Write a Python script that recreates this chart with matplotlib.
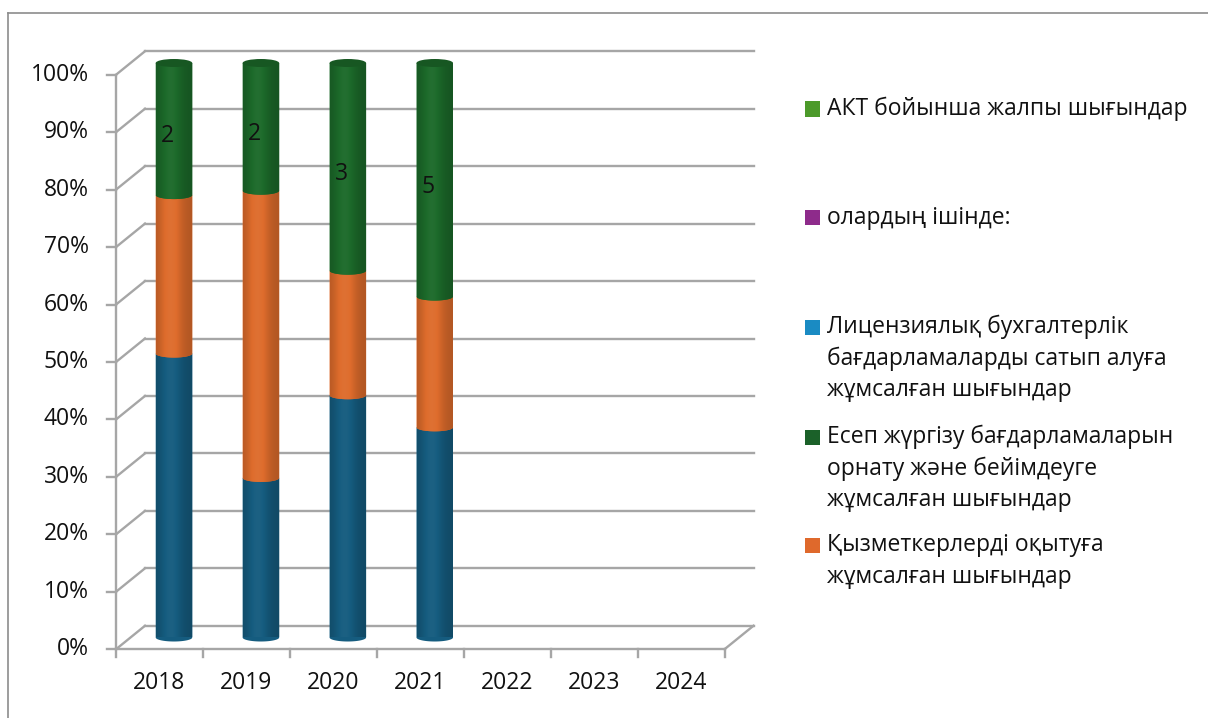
import matplotlib
matplotlib.use("Agg")
import matplotlib.pyplot as plt
import numpy as np
from matplotlib.patches import Polygon, Ellipse, Rectangle
from matplotlib.lines import Line2D
from matplotlib.colors import to_rgb

plt.rcParams["font.family"] = ["Open Sans", "DejaVu Sans"]

years = ["2018", "2019", "2020", "2021", "2022", "2023", "2024"]
# stacked series (bottom -> top), only the first four years have data
licenziya = [4.3, 2.5, 3.5, 4.5]
qyzmet = [2.4, 4.5, 1.8, 2.8]
esep = [2, 2, 3, 5]
esep_labels = ["2", "2", "3", "5"]
pct_ticks = [0, 10, 20, 30, 40, 50, 60, 70, 80, 90, 100]

legend_items = [
    ("АКТ бойынша жалпы шығындар", "#4C9A2A"),
    ("олардың ішінде:", "#8E2B8B"),
    ("Лицензиялық бухгалтерлік\nбағдарламаларды сатып алуға\nжұмсалған шығындар", "#1A8BC3"),
    ("Есеп жүргізу бағдарламаларын\nорнату және бейімдеуге\nжұмсалған шығындар", "#1B6129"),
    ("Қызметкерлерді оқытуға\nжұмсалған шығындар", "#DF692C"),
]
bar_colors = ["#155C7F", "#DE6C2C", "#1C6A2A"]

W, H = 1208, 718
fig = plt.figure(figsize=(W / 100, H / 100), dpi=100)
ax = fig.add_axes([130.5 / W, (H - 637.5) / H, 608.5 / W, 574.5 / H])
n = len(years)
ax.set_xlim(0, n)
ax.set_ylim(0, 100)
ax.set_axis_off()

# pseudo-3D offsets in data units (mid plane -> back wall)
px_x = 608.5 / n
px_y = 574.5 / 100
dxd = 14.5 / px_x
dyd = 11.75 / px_y
grid_c = "#A6A6A6"
lw = 1.7

# back wall, left wall, floor
for v in pct_ticks:
    ax.plot([dxd, n + dxd], [v + dyd, v + dyd], color=grid_c, lw=lw, clip_on=False, zorder=1)
    ax.plot([-dxd, dxd], [v - dyd, v + dyd], color=grid_c, lw=lw, clip_on=False, zorder=1)
ax.plot([n - dxd, n + dxd], [-dyd, dyd], color=grid_c, lw=lw, clip_on=False, zorder=1)
ax.plot([-dxd, n - dxd], [-dyd, -dyd], color=grid_c, lw=lw, clip_on=False, zorder=1)
ax.plot([-dxd, -dxd], [-dyd, 100 - dyd], color=grid_c, lw=lw, clip_on=False, zorder=1)
tick_x = 9 / px_x
for v in pct_ticks:
    ax.plot([-dxd - tick_x, -dxd], [v - dyd, v - dyd], color=grid_c, lw=lw, clip_on=False, zorder=1)
    ax.text(-dxd - 27 / px_x, v - dyd, f"{v}%", ha="right", va="center", fontsize=16.5, color="#111111")
for i in range(n + 1):
    ax.plot([i - dxd, i - dxd], [-dyd, -dyd - 8 / px_y], color=grid_c, lw=lw, clip_on=False, zorder=1)
for i, y in enumerate(years):
    ax.text(i + 0.5 - dxd, -dyd - 34 / px_y, y, ha="center", va="center", fontsize=16.5, color="#111111")

# cylinders
bw = 36.5 / px_x
eh = 8 / px_y
t = np.linspace(0, 1, 200)
prof = 0.8 + 0.26 * np.exp(-((t - 0.4) / 0.3) ** 2)


def shaded(color, k):
    base = np.array(to_rgb(color))
    out = []
    for f in k:
        if f >= 1:
            out.append(base + (1 - base) * (f - 1) * 0.5)
        else:
            out.append(base * f)
    return np.clip(np.array(out), 0, 1)


rows = np.array([licenziya, qyzmet, esep], dtype=float)
pct = rows / rows.sum(axis=0) * 100
theta = np.linspace(np.pi, 2 * np.pi, 60)
for j in range(pct.shape[1]):
    c = j + 0.5
    y0 = 0.0
    for s in range(pct.shape[0]):
        y1 = y0 + pct[s, j]
        xs = list(c + bw / 2 * np.cos(theta)) + [c + bw / 2, c - bw / 2]
        ys = list(y0 + eh / 2 * np.sin(theta)) + [y1, y1]
        poly = Polygon(np.column_stack([xs, ys]), closed=True, facecolor=bar_colors[s],
                       edgecolor="none", zorder=2 + s, clip_on=False)
        ax.add_patch(poly)
        img = shaded(bar_colors[s], prof)[None, :, :]
        im = ax.imshow(img, extent=[c - bw / 2, c + bw / 2, y0 - eh, y1 + 0.1], aspect="auto",
                       zorder=2 + s, interpolation="bilinear")
        im.set_clip_box(None)
        im.set_clip_path(poly)
        y0 = y1
    ax.add_patch(Ellipse((c, 100), bw, eh, facecolor=shaded(bar_colors[-1], [0.82])[0],
                         edgecolor="none", zorder=6, clip_on=False))
    mid = pct[0, j] + pct[1, j] + pct[2, j] / 2
    ax.annotate(esep_labels[j], (c, mid), xytext=(-4.5, -5), textcoords="offset points",
                ha="center", va="center", fontsize=16.5, color="#111111", zorder=7)

ax.set_xlim(0, n)
ax.set_ylim(0, 100)

# legend
ys_first = [109, 218, 327, 437, 545]
for (label, col), yc in zip(legend_items, ys_first):
    fig.add_artist(Rectangle((805 / W, 1 - (yc + 7.5) / H), 15 / W, 15 / H,
                             transform=fig.transFigure, facecolor=col, edgecolor="none"))
    for k, line in enumerate(label.split("\n")):
        fig.text(827 / W, 1 - (yc + k * 31.7) / H, line, ha="left", va="center",
                 fontsize=16.5, color="#111111")

# outer frame (top and left edges)
fig.add_artist(Line2D([8 / W, 8 / W], [0, 1 - 13 / H], transform=fig.transFigure,
                      color="#8C8C8C", lw=1.2))
fig.add_artist(Line2D([8 / W, 1], [1 - 13 / H, 1 - 13 / H], transform=fig.transFigure,
                      color="#8C8C8C", lw=1.2))

fig.savefig("out.png", dpi=100)
